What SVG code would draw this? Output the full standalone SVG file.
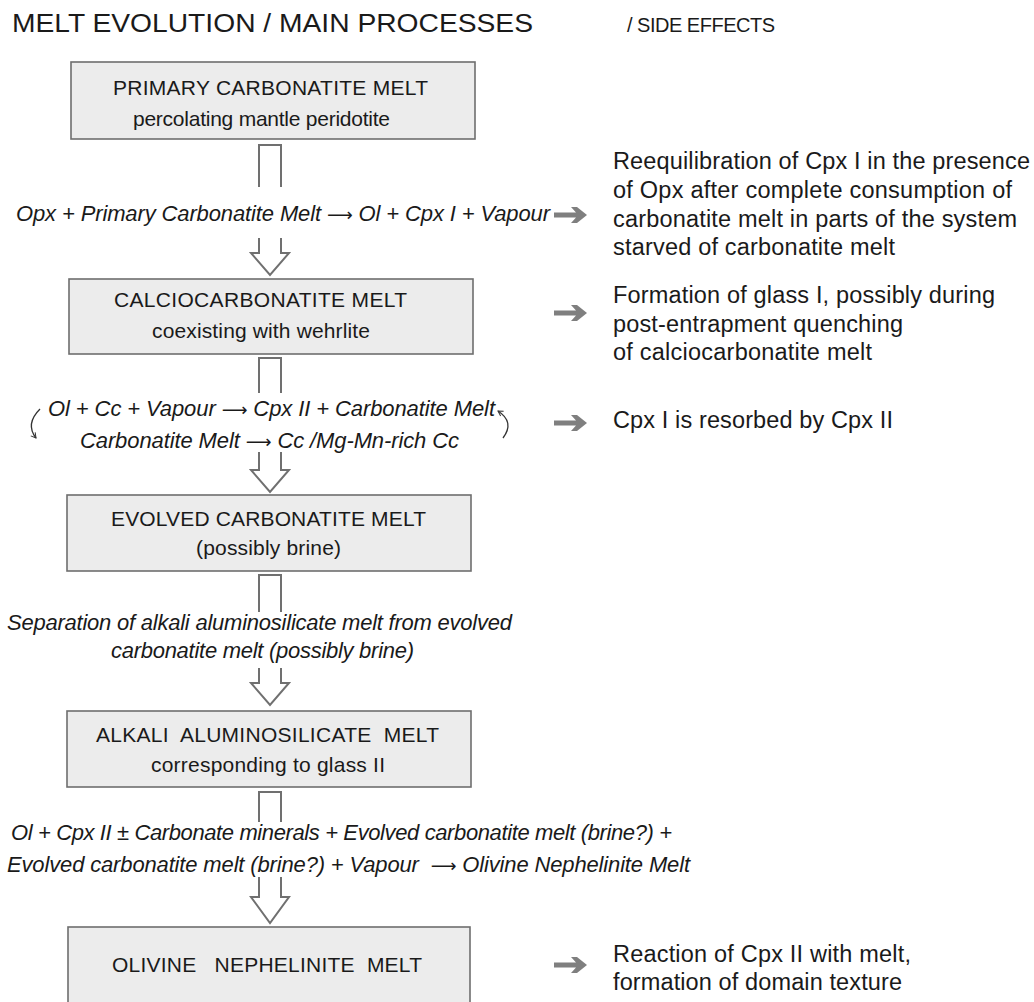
<svg xmlns="http://www.w3.org/2000/svg" width="1034" height="1002" viewBox="0 0 1034 1002">
<defs>
<style>
.t{font-family:"Liberation Sans",Arial,sans-serif;fill:#1a1a1a}
.title{font-size:26px}
.box{fill:#ececec;stroke:#6e6e6e;stroke-width:1.6}
.bt{font-size:21px}
.rx{font-size:22px;font-style:italic}
.ar{font-family:"DejaVu Sans",sans-serif;font-style:normal;font-size:18px}
.side{font-size:23.5px}
.flow{fill:#fff;stroke:#707070;stroke-width:2}
.ga{fill:#7f7f7f}
.curl{fill:none;stroke:#333;stroke-width:1.3}
</style>
<marker id="ah" viewBox="0 0 10 10" refX="8" refY="5" markerWidth="7" markerHeight="7" orient="auto" markerUnits="userSpaceOnUse">
<path d="M1,1 L8,5 L1,9" fill="none" stroke="#333" stroke-width="1.4"/>
</marker>
<path id="garrow" d="M0,-2.5 H22 L17,-8 H23 L33,0 L23,8 H17 L22,2.5 H0 Z"/>
</defs>
<rect width="1034" height="1002" fill="#fff"/>

<g id="headers">
<text class="t title" x="12" y="32" textLength="521" lengthAdjust="spacingAndGlyphs">MELT EVOLUTION / MAIN PROCESSES</text>
<text class="t" x="627" y="32" font-size="20" textLength="148">/ SIDE EFFECTS</text>
</g>

<g id="node1">
<rect class="box" x="71" y="62" width="404" height="77"/>
<text class="t bt" x="113" y="95" textLength="315">PRIMARY CARBONATITE MELT</text>
<text class="t bt" x="133" y="126" textLength="257">percolating mantle peridotite</text>
</g>

<g id="node2">
<rect class="box" x="69" y="279" width="404" height="75"/>
<text class="t bt" x="114" y="307" textLength="293">CALCIOCARBONATITE MELT</text>
<text class="t bt" x="152" y="338" textLength="218">coexisting with wehrlite</text>
</g>

<g id="node3">
<rect class="box" x="67" y="495" width="404" height="76"/>
<text class="t bt" x="111" y="526" textLength="315">EVOLVED CARBONATITE MELT</text>
<text class="t bt" x="196" y="555" textLength="145">(possibly brine)</text>
</g>

<g id="node4">
<rect class="box" x="67" y="711" width="404" height="76"/>
<text class="t bt" x="96" y="742" textLength="343" style="white-space:pre">ALKALI  ALUMINOSILICATE  MELT</text>
<text class="t bt" x="151" y="772" textLength="234">corresponding to glass II</text>
</g>

<g id="node5">
<rect class="box" x="68" y="927" width="402" height="90"/>
<text class="t bt" x="112" y="972" textLength="310" style="white-space:pre">OLIVINE   NEPHELINITE  MELT</text>
</g>

<g id="reactions">
<text class="t rx" x="16" y="221" textLength="534">Opx + Primary Carbonatite Melt <tspan class="ar">⟶</tspan> Ol + Cpx I + Vapour</text>
<text class="t rx" x="48" y="416" textLength="447">Ol + Cc + Vapour <tspan class="ar">⟶</tspan> Cpx II + Carbonatite Melt</text>
<text class="t rx" x="80" y="448" textLength="379">Carbonatite Melt <tspan class="ar">⟶</tspan> Cc /Mg-Mn-rich Cc</text>
<text class="t rx" x="7" y="630" textLength="505">Separation of alkali aluminosilicate melt from evolved</text>
<text class="t rx" x="111" y="658" textLength="303">carbonatite melt (possibly brine)</text>
<text class="t rx" x="11" y="840" textLength="661">Ol + Cpx II ± Carbonate minerals + Evolved carbonatite melt (brine?) +</text>
<text class="t rx" x="7" y="872" textLength="683" style="white-space:pre">Evolved carbonatite melt (brine?) + Vapour  <tspan class="ar">⟶</tspan> Olivine Nephelinite Melt</text>
</g>

<g id="side-effects">
<text class="t side" x="613" y="169" textLength="417">Reequilibration of Cpx I in the presence</text>
<text class="t side" x="613" y="198" textLength="399">of Opx after complete consumption of</text>
<text class="t side" x="613" y="227" textLength="404">carbonatite melt in parts of the system</text>
<text class="t side" x="613" y="255" textLength="282">starved of carbonatite melt</text>
<text class="t side" x="613" y="303" textLength="382">Formation of glass I, possibly during</text>
<text class="t side" x="613" y="332" textLength="290">post-entrapment quenching</text>
<text class="t side" x="613" y="360" textLength="259">of calciocarbonatite melt</text>
<text class="t side" x="613" y="428" textLength="280">Cpx I is resorbed by Cpx II</text>
<text class="t side" x="613" y="962" textLength="298">Reaction of Cpx II with melt,</text>
<text class="t side" x="613" y="990" textLength="289">formation of domain texture</text>
</g>

<g id="connectors">
<path class="flow" d="M259,187 V145 H281 V187"/>
<path class="flow" d="M259,238 V253 H251 L270,275 L289,253 H281 V238"/>
<path class="flow" d="M259,393 V358 H281 V393"/>
<path class="flow" d="M259,452 V470 H251 L270,492 L289,470 H281 V452"/>
<path class="flow" d="M259,612 V575 H281 V612"/>
<path class="flow" d="M259,668 V683 H251 L270,705 L289,683 H281 V668"/>
<path class="flow" d="M259,822 V792 H281 V822"/>
<path class="flow" d="M259,877 V897 H251 L270,923 L289,897 H281 V877"/>
<use href="#garrow" class="ga" x="554" y="215"/>
<use href="#garrow" class="ga" x="554" y="313"/>
<use href="#garrow" class="ga" x="554" y="423"/>
<use href="#garrow" class="ga" x="554" y="965"/>
<path class="curl" d="M40,409 Q25,424 36,438" marker-end="url(#ah)"/>
<path class="curl" d="M503,438 Q515,422 498,411" marker-end="url(#ah)"/>
</g>
</svg>
